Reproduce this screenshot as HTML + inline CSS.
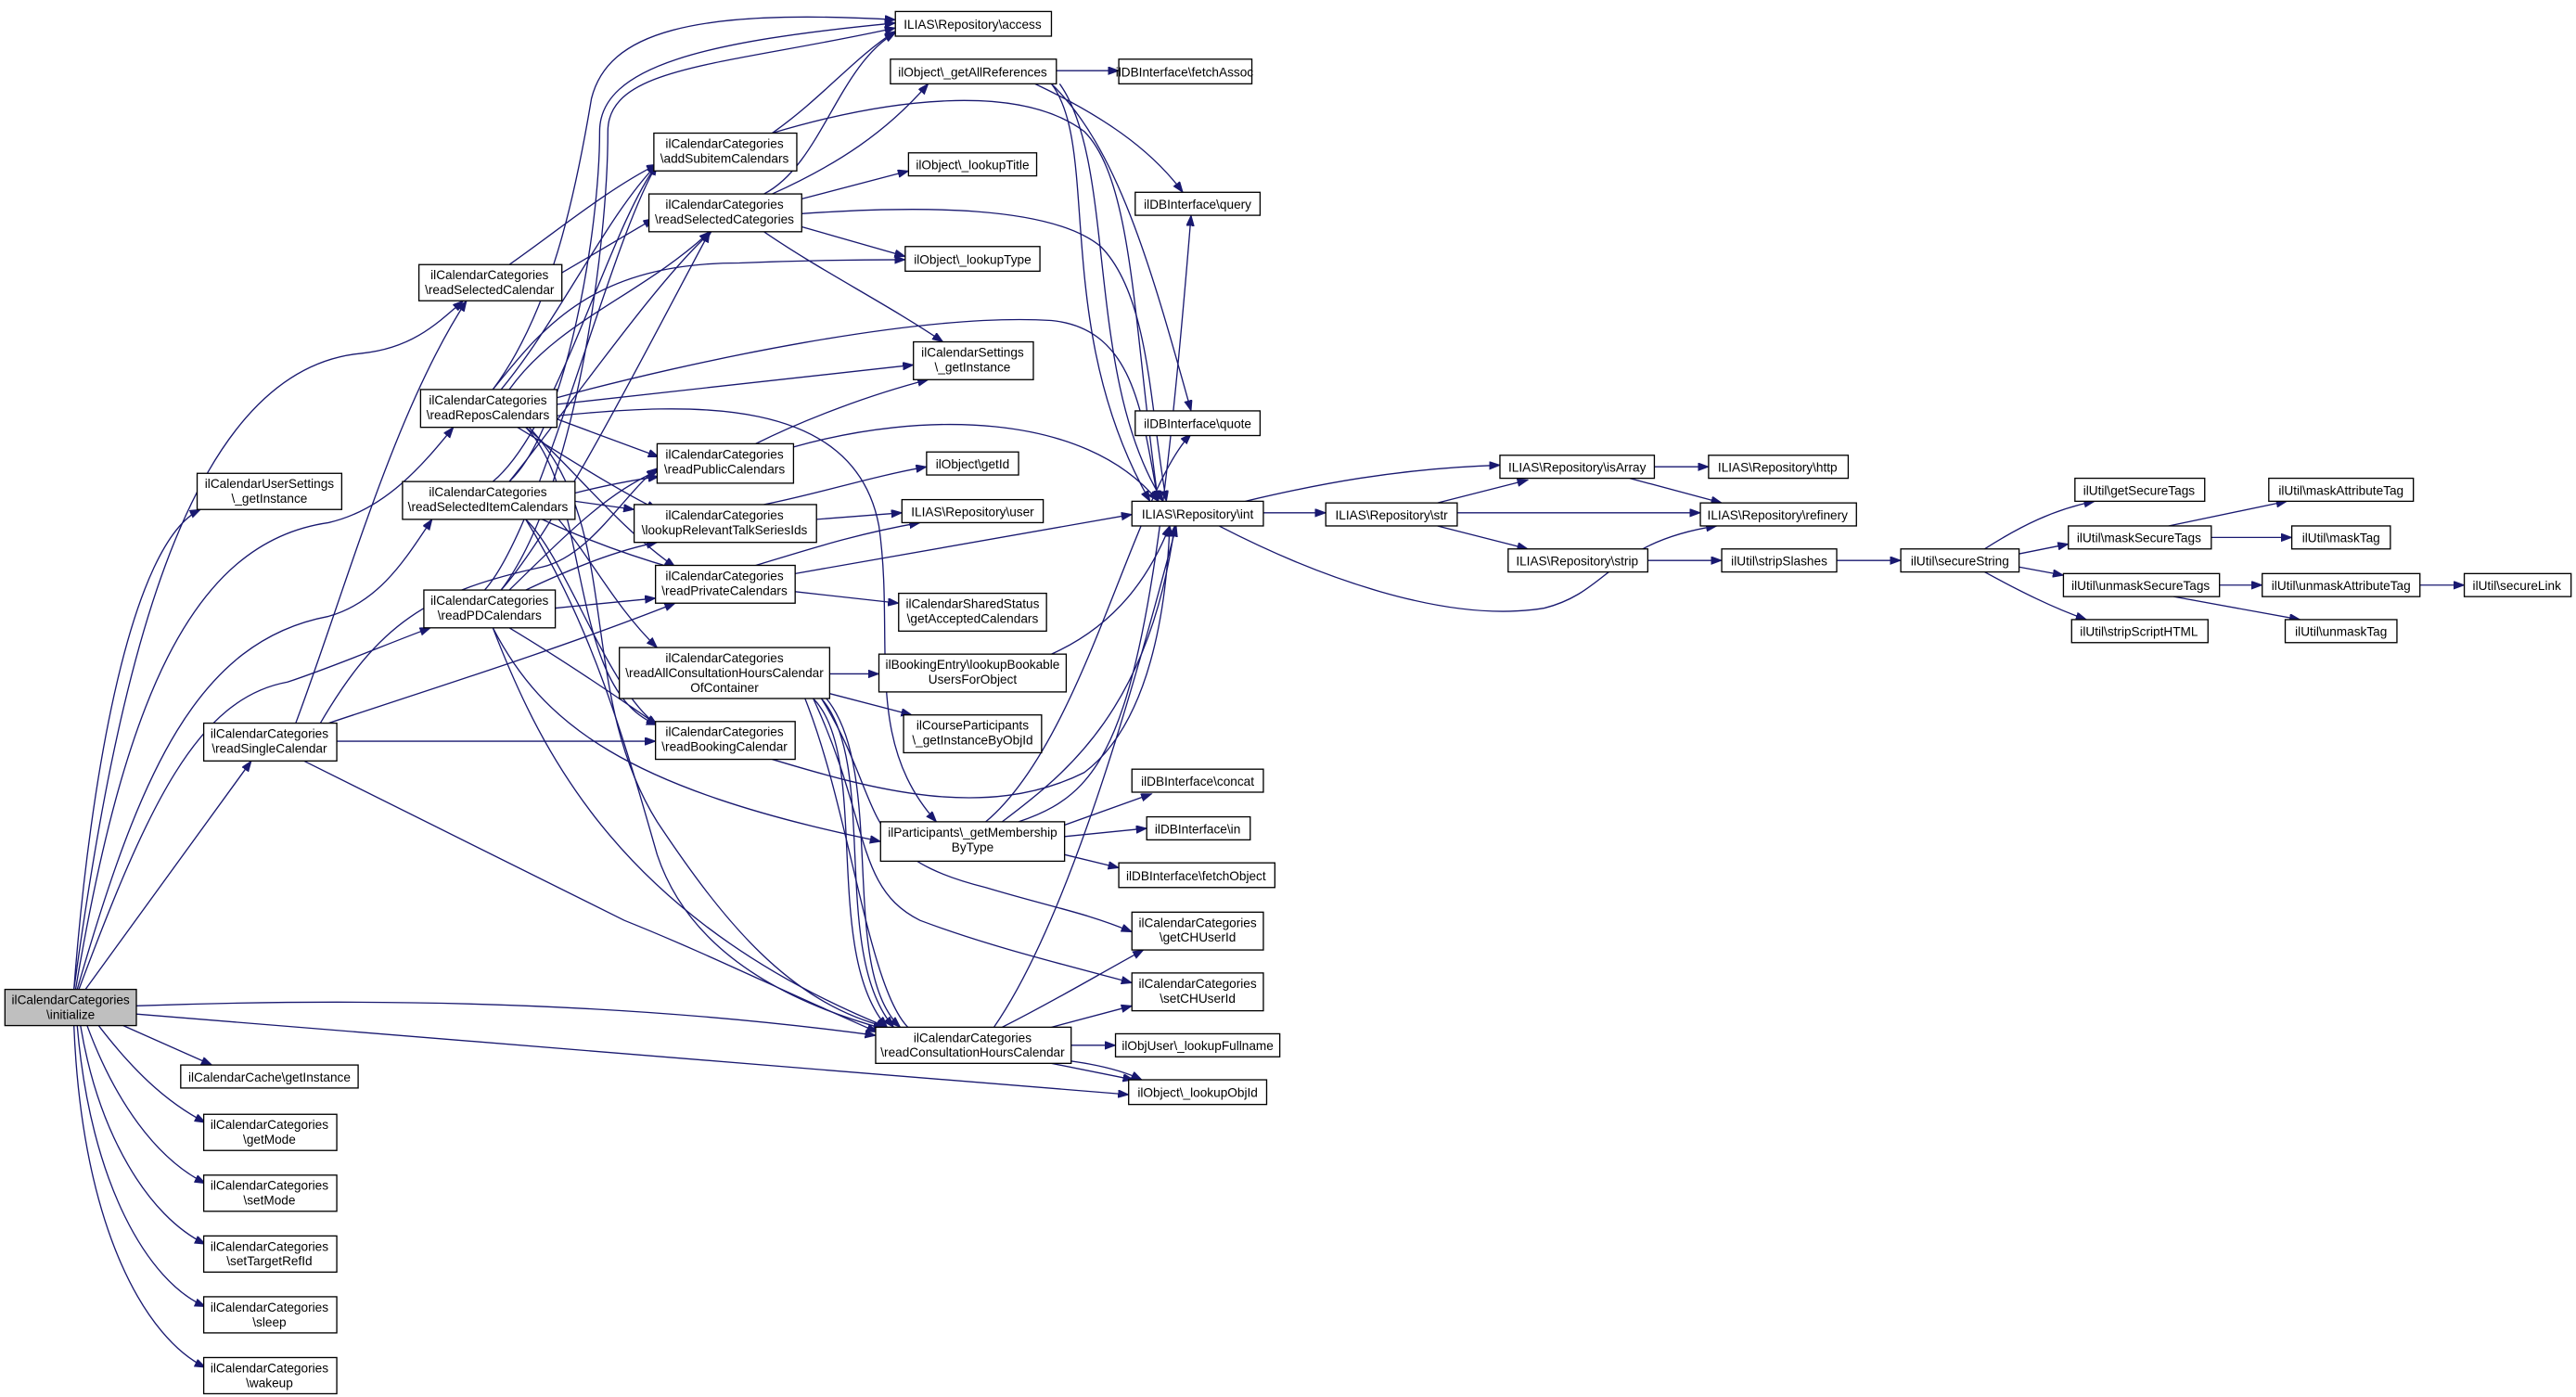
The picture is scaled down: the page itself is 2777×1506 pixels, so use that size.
<!DOCTYPE html>
<html><head><meta charset="utf-8"><style>
html,body{margin:0;padding:0;background:#fff;}
svg{display:block;}
text{font-family:"Liberation Sans",sans-serif;font-size:7.7px;fill:#000;text-anchor:middle;}
.n rect{fill:#fff;stroke:#000;stroke-width:0.75;}
.g rect{fill:#bfbfbf;}
.e path{fill:none;stroke:#191970;stroke-width:0.75;marker-end:url(#a);}
</style></head><body>
<svg width="2777" height="1506" viewBox="0 0 1568 850" preserveAspectRatio="none" xmlns="http://www.w3.org/2000/svg">
<defs><marker id="a" markerUnits="userSpaceOnUse" markerWidth="7" markerHeight="5" refX="6.5" refY="2.4" orient="auto"><path d="M0,0 L6.5,2.4 L0,4.8 z" fill="#191970" stroke="#191970" stroke-width="0.5"/></marker></defs>
<g class="e">
<path d="M45,602 C55,470 80,330 122,310"/>
<path d="M45,602 C70,420 110,225 220,215 C250,212 265,198 282,183"/>
<path d="M46,602 C75,430 115,330 200,318 C235,310 258,282 276,260"/>
<path d="M47,602 C85,470 120,390 200,375 C232,366 248,338 263,316"/>
<path d="M48,602 C90,490 120,425 175,415 C205,405 235,392 262,382"/>
<path d="M52,602 L153,463"/>
<path d="M83,612 C250,606 400,612 533,630"/>
<path d="M83,617 L687,666"/>
<path d="M75,624 L129,648"/>
<path d="M60,624 C80,650 100,670 125,683"/>
<path d="M53,624 C70,670 95,705 125,720"/>
<path d="M49,624 C60,690 90,740 125,757"/>
<path d="M47,624 C55,720 90,780 125,795"/>
<path d="M45,624 C50,750 90,815 125,832"/>
<path d="M180,440 C210,360 240,250 284,183"/>
<path d="M195,440 C230,380 260,360 330,345 C360,338 380,300 400,285"/>
<path d="M200,440 C260,420 340,395 411,367"/>
<path d="M205,451 L399,451"/>
<path d="M185,463 C240,490 300,520 380,560 C430,580 470,600 534,628"/>
<path d="M310,161 C340,140 370,115 400,100"/>
<path d="M342,166 L398,133"/>
<path d="M305,237 C340,195 370,130 400,100"/>
<path d="M310,237 C340,195 390,180 432,141"/>
<path d="M300,237 C335,190 350,120 360,60 C370,20 420,5 545,12"/>
<path d="M339,246 L556,222"/>
<path d="M339,242 C420,220 560,190 640,195 C690,200 695,250 705,305"/>
<path d="M339,253 C420,245 520,240 535,320 C545,390 525,450 570,500"/>
<path d="M339,255 L401,278"/>
<path d="M315,260 C340,275 370,295 400,310"/>
<path d="M320,260 C345,280 375,320 411,345"/>
<path d="M320,260 C360,300 345,420 400,441"/>
<path d="M322,260 C380,320 350,420 400,500 C440,560 480,610 540,625"/>
<path d="M300,237 C330,200 360,160 450,160 C500,158 530,158 551,158"/>
<path d="M300,293 C340,260 370,140 400,100"/>
<path d="M310,293 C345,250 400,170 433,141"/>
<path d="M350,300 C370,295 385,292 401,290"/>
<path d="M350,305 L386,310"/>
<path d="M330,316 C360,330 390,340 411,346"/>
<path d="M320,316 C345,340 370,420 400,441"/>
<path d="M320,316 C360,380 380,450 400,520 C420,580 480,610 538,626"/>
<path d="M340,316 C360,340 375,370 400,394"/>
<path d="M310,293 C345,260 365,140 365,80 C365,40 430,25 545,14"/>
<path d="M295,359 C330,320 370,150 400,100"/>
<path d="M305,359 C340,320 400,200 432,141"/>
<path d="M310,359 C350,320 370,300 401,286"/>
<path d="M320,359 C350,345 375,335 400,330"/>
<path d="M338,370 L399,364"/>
<path d="M310,382 C340,400 370,420 400,441"/>
<path d="M300,382 C330,460 380,560 540,625"/>
<path d="M300,382 C330,440 380,480 536,512"/>
<path d="M305,359 C350,300 370,150 370,80 C370,40 440,40 545,17"/>
<path d="M470,81 C500,60 520,35 545,19"/>
<path d="M470,81 C540,60 620,50 660,80 C690,110 690,200 705,305"/>
<path d="M465,118 C500,100 510,40 545,20"/>
<path d="M470,118 C510,100 540,80 565,51"/>
<path d="M488,121 L553,104"/>
<path d="M488,138 L551,156"/>
<path d="M465,141 C500,165 540,185 574,208"/>
<path d="M488,130 C560,125 640,125 670,150 C700,180 700,250 710,305"/>
<path d="M460,270 C490,255 530,240 565,231"/>
<path d="M483,272 C560,250 660,250 705,305"/>
<path d="M465,307 C500,300 530,290 564,284"/>
<path d="M497,316 L549,312"/>
<path d="M460,344 C490,335 520,325 560,318"/>
<path d="M484,349 L689,313"/>
<path d="M484,360 L547,367"/>
<path d="M505,410 L535,410"/>
<path d="M505,422 L555,435"/>
<path d="M495,425 C530,460 500,580 540,625"/>
<path d="M500,425 C535,465 505,580 544,625"/>
<path d="M503,425 C540,470 510,590 548,625"/>
<path d="M500,425 C540,490 520,520 600,540 C640,552 660,555 689,567"/>
<path d="M495,425 C530,500 520,540 560,560 C600,575 640,585 689,598"/>
<path d="M490,425 C520,500 530,620 560,630 C600,645 660,640 695,657"/>
<path d="M470,462 C530,480 600,500 660,470 C700,440 710,370 712,320"/>
<path d="M640,398 C680,380 700,350 712,320"/>
<path d="M610,500 C650,470 700,430 715,320"/>
<path d="M620,500 C680,480 700,440 725,131"/>
<path d="M600,500 C660,450 690,300 725,264"/>
<path d="M648,502 L701,483"/>
<path d="M648,509 L698,504"/>
<path d="M648,520 L681,528"/>
<path d="M605,625 C650,560 690,420 716,320"/>
<path d="M610,625 C640,610 665,595 696,578"/>
<path d="M640,625 L689,612"/>
<path d="M652,636 L679,636"/>
<path d="M640,647 L690,657"/>
<path d="M643,43 L681,43"/>
<path d="M630,51 C670,70 700,90 720,117"/>
<path d="M640,51 C680,90 700,160 725,250"/>
<path d="M640,51 C670,90 640,200 700,305"/>
<path d="M645,51 C680,100 660,230 708,305"/>
<path d="M758,305 C800,295 850,285 913,283"/>
<path d="M769,312 L807,312"/>
<path d="M742,320 C800,350 880,380 940,370 C980,360 980,330 1045,320"/>
<path d="M875,306 L930,292"/>
<path d="M887,312 L1035,312"/>
<path d="M875,320 L930,334"/>
<path d="M1007,284 L1040,284"/>
<path d="M992,291 L1048,306"/>
<path d="M1003,341 L1048,341"/>
<path d="M1118,341 L1157,341"/>
<path d="M1208,334 C1230,320 1250,310 1275,305"/>
<path d="M1229,337 L1259,331"/>
<path d="M1229,345 L1256,350"/>
<path d="M1208,348 C1230,360 1250,370 1270,377"/>
<path d="M1320,320 L1392,305"/>
<path d="M1346,327 L1395,327"/>
<path d="M1351,356 L1377,356"/>
<path d="M1323,363 L1400,377"/>
<path d="M1473,356 L1500,356"/>
</g>
<g class="n g"><rect x="3" y="602" width="80" height="22"/><text x="43" y="611">ilCalendarCategories</text><text x="43" y="620">\initialize</text></g>
<g class="n">
<rect x="120" y="288" width="88" height="22"/><text x="164" y="297">ilCalendarUserSettings</text><text x="164" y="306">\_getInstance</text>
<rect x="255" y="161" width="87" height="22"/><text x="298" y="170">ilCalendarCategories</text><text x="298" y="179">\readSelectedCalendar</text>
<rect x="256" y="237" width="83" height="23"/><text x="297" y="246">ilCalendarCategories</text><text x="297" y="255">\readReposCalendars</text>
<rect x="245" y="293" width="105" height="23"/><text x="297" y="302">ilCalendarCategories</text><text x="297" y="311">\readSelectedItemCalendars</text>
<rect x="258" y="359" width="80" height="23"/><text x="298" y="368">ilCalendarCategories</text><text x="298" y="377">\readPDCalendars</text>
<rect x="124" y="440" width="81" height="23"/><text x="164" y="449">ilCalendarCategories</text><text x="164" y="458">\readSingleCalendar</text>
<rect x="110" y="648" width="108" height="14"/><text x="164" y="658">ilCalendarCache\getInstance</text>
<rect x="124" y="678" width="81" height="22"/><text x="164" y="687">ilCalendarCategories</text><text x="164" y="696">\getMode</text>
<rect x="124" y="715" width="81" height="22"/><text x="164" y="724">ilCalendarCategories</text><text x="164" y="733">\setMode</text>
<rect x="124" y="752" width="81" height="22"/><text x="164" y="761">ilCalendarCategories</text><text x="164" y="770">\setTargetRefId</text>
<rect x="124" y="789" width="81" height="22"/><text x="164" y="798">ilCalendarCategories</text><text x="164" y="807">\sleep</text>
<rect x="124" y="826" width="81" height="22"/><text x="164" y="835">ilCalendarCategories</text><text x="164" y="844">\wakeup</text>
<rect x="398" y="81" width="87" height="23"/><text x="441" y="90">ilCalendarCategories</text><text x="441" y="99">\addSubitemCalendars</text>
<rect x="395" y="118" width="93" height="23"/><text x="441" y="127">ilCalendarCategories</text><text x="441" y="136">\readSelectedCategories</text>
<rect x="400" y="270" width="83" height="24"/><text x="441" y="279">ilCalendarCategories</text><text x="441" y="288">\readPublicCalendars</text>
<rect x="386" y="307" width="111" height="23"/><text x="441" y="316">ilCalendarCategories</text><text x="441" y="325">\lookupRelevantTalkSeriesIds</text>
<rect x="399" y="344" width="85" height="23"/><text x="441" y="353">ilCalendarCategories</text><text x="441" y="362">\readPrivateCalendars</text>
<rect x="377" y="394" width="128" height="31"/><text x="441" y="403">ilCalendarCategories</text><text x="441" y="412">\readAllConsultationHoursCalendar</text><text x="441" y="421">OfContainer</text>
<rect x="399" y="439" width="85" height="23"/><text x="441" y="448">ilCalendarCategories</text><text x="441" y="457">\readBookingCalendar</text>
<rect x="545" y="7" width="95" height="15"/><text x="592" y="17.5">ILIAS\Repository\access</text>
<rect x="542" y="36" width="101" height="15"/><text x="592" y="46.5">ilObject\_getAllReferences</text>
<rect x="553" y="93" width="78" height="14"/><text x="592" y="103">ilObject\_lookupTitle</text>
<rect x="551" y="150" width="82" height="15"/><text x="592" y="160.5">ilObject\_lookupType</text>
<rect x="556" y="208" width="73" height="23"/><text x="592" y="217">ilCalendarSettings</text><text x="592" y="226">\_getInstance</text>
<rect x="564" y="275" width="56" height="14"/><text x="592" y="285">ilObject\getId</text>
<rect x="549" y="304" width="86" height="14"/><text x="592" y="314">ILIAS\Repository\user</text>
<rect x="547" y="361" width="90" height="23"/><text x="592" y="370">ilCalendarSharedStatus</text><text x="592" y="379">\getAcceptedCalendars</text>
<rect x="535" y="398" width="114" height="23"/><text x="592" y="407">ilBookingEntry\lookupBookable</text><text x="592" y="416">UsersForObject</text>
<rect x="550" y="435" width="84" height="23"/><text x="592" y="444">ilCourseParticipants</text><text x="592" y="453">\_getInstanceByObjId</text>
<rect x="536" y="500" width="112" height="24"/><text x="592" y="509">ilParticipants\_getMembership</text><text x="592" y="518">ByType</text>
<rect x="533" y="625" width="119" height="22"/><text x="592" y="634">ilCalendarCategories</text><text x="592" y="643">\readConsultationHoursCalendar</text>
<rect x="681" y="36" width="81" height="15"/><text x="721" y="46.5">ilDBInterface\fetchAssoc</text>
<rect x="691" y="117" width="76" height="14"/><text x="729" y="127">ilDBInterface\query</text>
<rect x="691" y="250" width="76" height="15"/><text x="729" y="260.5">ilDBInterface\quote</text>
<rect x="689" y="305" width="80" height="15"/><text x="729" y="315.5">ILIAS\Repository\int</text>
<rect x="689" y="468" width="80" height="14"/><text x="729" y="478">ilDBInterface\concat</text>
<rect x="698" y="497" width="63" height="14"/><text x="729" y="507">ilDBInterface\in</text>
<rect x="681" y="525" width="95" height="15"/><text x="728" y="535.5">ilDBInterface\fetchObject</text>
<rect x="689" y="555" width="80" height="23"/><text x="729" y="564">ilCalendarCategories</text><text x="729" y="573">\getCHUserId</text>
<rect x="689" y="592" width="80" height="23"/><text x="729" y="601">ilCalendarCategories</text><text x="729" y="610">\setCHUserId</text>
<rect x="679" y="629" width="100" height="14"/><text x="729" y="639">ilObjUser\_lookupFullname</text>
<rect x="687" y="657" width="84" height="15"/><text x="729" y="667.5">ilObject\_lookupObjId</text>
<rect x="913" y="277" width="94" height="14"/><text x="960" y="287">ILIAS\Repository\isArray</text>
<rect x="1040" y="277" width="85" height="14"/><text x="1082" y="287">ILIAS\Repository\http</text>
<rect x="807" y="306" width="80" height="14"/><text x="847" y="316">ILIAS\Repository\str</text>
<rect x="1035" y="306" width="95" height="14"/><text x="1082" y="316">ILIAS\Repository\refinery</text>
<rect x="918" y="334" width="85" height="14"/><text x="960" y="344">ILIAS\Repository\strip</text>
<rect x="1048" y="334" width="70" height="14"/><text x="1083" y="344">ilUtil\stripSlashes</text>
<rect x="1157" y="334" width="72" height="14"/><text x="1193" y="344">ilUtil\secureString</text>
<rect x="1263" y="291" width="79" height="14"/><text x="1302" y="301">ilUtil\getSecureTags</text>
<rect x="1259" y="320" width="87" height="14"/><text x="1302" y="330">ilUtil\maskSecureTags</text>
<rect x="1256" y="349" width="95" height="14"/><text x="1303" y="359">ilUtil\unmaskSecureTags</text>
<rect x="1261" y="377" width="83" height="14"/><text x="1302" y="387">ilUtil\stripScriptHTML</text>
<rect x="1381" y="291" width="88" height="14"/><text x="1425" y="301">ilUtil\maskAttributeTag</text>
<rect x="1395" y="320" width="60" height="14"/><text x="1425" y="330">ilUtil\maskTag</text>
<rect x="1377" y="349" width="96" height="14"/><text x="1425" y="359">ilUtil\unmaskAttributeTag</text>
<rect x="1391" y="377" width="68" height="14"/><text x="1425" y="387">ilUtil\unmaskTag</text>
<rect x="1500" y="349" width="65" height="14"/><text x="1532" y="359">ilUtil\secureLink</text>
</g>
</svg>
</body></html>
